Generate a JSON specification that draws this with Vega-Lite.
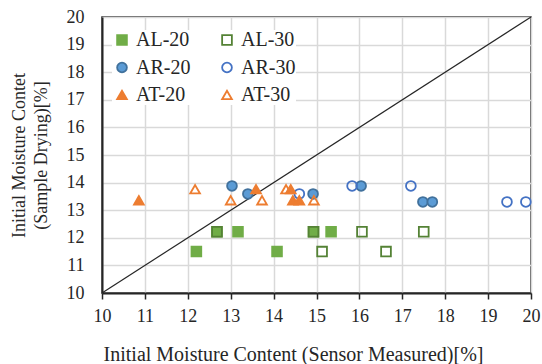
{
  "$schema": "https://vega.github.io/schema/vega-lite/v6.json",
  "width": 429,
  "height": 276,
  "autosize": {"type": "none"},
  "padding": {"left": 102, "top": 17, "right": 11, "bottom": 71},
  "background": "white",
  "config": {
    "font": "Liberation Serif",
    "view": {"stroke": "#262626", "strokeWidth": 1.5},
    "axis": {
      "labelFont": "Liberation Serif",
      "titleFont": "Liberation Serif",
      "labelColor": "#262626",
      "titleColor": "#262626",
      "titleFontWeight": "normal",
      "gridColor": "#d9d9d9",
      "gridWidth": 1.5,
      "domainColor": "#262626",
      "domainWidth": 2,
      "tickColor": "#262626",
      "labelOverlap": false
    }
  },
  "datasets": {
    "pts": [
      {"series": "AL-20", "x": 12.2, "y": 11.5},
      {"series": "AL-20", "x": 12.68, "y": 12.22},
      {"series": "AL-20", "x": 13.17, "y": 12.22},
      {"series": "AL-20", "x": 14.08, "y": 11.5},
      {"series": "AL-20", "x": 14.93, "y": 12.22},
      {"series": "AL-20", "x": 15.34, "y": 12.22},
      {"series": "AL-30", "x": 12.68, "y": 12.22},
      {"series": "AL-30", "x": 14.93, "y": 12.22},
      {"series": "AL-30", "x": 15.13, "y": 11.5},
      {"series": "AL-30", "x": 16.06, "y": 12.22},
      {"series": "AL-30", "x": 16.62, "y": 11.5},
      {"series": "AL-30", "x": 17.5, "y": 12.22},
      {"series": "AR-20", "x": 13.03, "y": 13.88},
      {"series": "AR-20", "x": 13.4, "y": 13.59},
      {"series": "AR-20", "x": 14.92, "y": 13.59},
      {"series": "AR-20", "x": 16.04, "y": 13.88},
      {"series": "AR-20", "x": 17.48, "y": 13.3},
      {"series": "AR-20", "x": 17.7, "y": 13.3},
      {"series": "AR-30", "x": 14.6, "y": 13.59},
      {"series": "AR-30", "x": 15.83, "y": 13.88},
      {"series": "AR-30", "x": 17.2, "y": 13.88},
      {"series": "AR-30", "x": 19.44, "y": 13.3},
      {"series": "AR-30", "x": 19.88, "y": 13.3},
      {"series": "AT-20", "x": 10.86, "y": 13.36},
      {"series": "AT-20", "x": 13.59, "y": 13.76},
      {"series": "AT-20", "x": 14.4, "y": 13.76},
      {"series": "AT-20", "x": 14.45, "y": 13.36},
      {"series": "AT-20", "x": 14.6, "y": 13.36},
      {"series": "AT-30", "x": 12.17, "y": 13.76},
      {"series": "AT-30", "x": 13.0, "y": 13.36},
      {"series": "AT-30", "x": 13.73, "y": 13.36},
      {"series": "AT-30", "x": 14.29, "y": 13.76},
      {"series": "AT-30", "x": 14.94, "y": 13.36}
    ],
    "diag": [
      {"x": 10, "y": 10},
      {"x": 20, "y": 20}
    ]
  },
  "encoding": {
    "x": {
      "field": "x", "type": "quantitative",
      "scale": {"domain": [10, 20], "nice": false, "zero": false},
      "axis": {
        "title": "Initial Moisture Content (Sensor Measured)[%]",
        "titleFontSize": 20,
        "titleX": 191,
        "titlePadding": 19,
        "labelFontSize": 18,
        "values": [10, 11, 12, 13, 14, 15, 16, 17, 18, 19, 20],
        "tickSize": 6,
        "tickWidth": 1.5,
        "labelPadding": 8,
        "labelFlush": false
      }
    },
    "y": {
      "field": "y", "type": "quantitative",
      "scale": {"domain": [10, 20], "nice": false, "zero": false},
      "axis": {
        "title": ["Initial Moisture Contet", "(Sample Drying)[%]"],
        "titleFontSize": 18,
        "titlePadding": 16,
        "titleLineHeight": 22,
        "labelFontSize": 18,
        "values": [10, 11, 12, 13, 14, 15, 16, 17, 18, 19, 20],
        "ticks": false,
        "labelPadding": 18,
        "labelFlush": false
      }
    }
  },
  "layer": [
    {
      "data": {"name": "diag"},
      "mark": {"type": "line", "color": "#262626", "strokeWidth": 1.2}
    },
    {
      "data": {"name": "pts"},
      "mark": {"type": "point", "filled": true, "size": 95, "strokeWidth": 1.8, "opacity": 1},
      "encoding": {
        "shape": {
          "field": "series", "type": "nominal",
          "scale": {
            "domain": ["AL-20", "AR-20", "AT-20", "AL-30", "AR-30", "AT-30"],
            "range": ["square", "circle", "triangle-up", "square", "circle", "triangle-up"]
          },
          "legend": {
            "title": null,
            "orient": "none",
            "legendX": 10,
            "legendY": 13,
            "columns": 2,
            "columnPadding": 26,
            "rowPadding": 7.5,
            "labelFontSize": 20,
            "labelFont": "Liberation Serif",
            "labelColor": "#262626",
            "symbolSize": 95,
            "symbolStrokeWidth": 1.8,
            "labelOffset": 4,
            "fillColor": "white"
          }
        },
        "fill": {
          "field": "series", "type": "nominal",
          "scale": {
            "domain": ["AL-20", "AR-20", "AT-20", "AL-30", "AR-30", "AT-30"],
            "range": ["#70AD47", "#5B9BD5", "#ED7D31", "transparent", "transparent", "transparent"]
          }
        },
        "stroke": {
          "field": "series", "type": "nominal",
          "scale": {
            "domain": ["AL-20", "AR-20", "AT-20", "AL-30", "AR-30", "AT-30"],
            "range": ["#70AD47", "#41719C", "#ED7D31", "#548235", "#4472C4", "#ED7D31"]
          }
        }
      }
    }
  ]
}
